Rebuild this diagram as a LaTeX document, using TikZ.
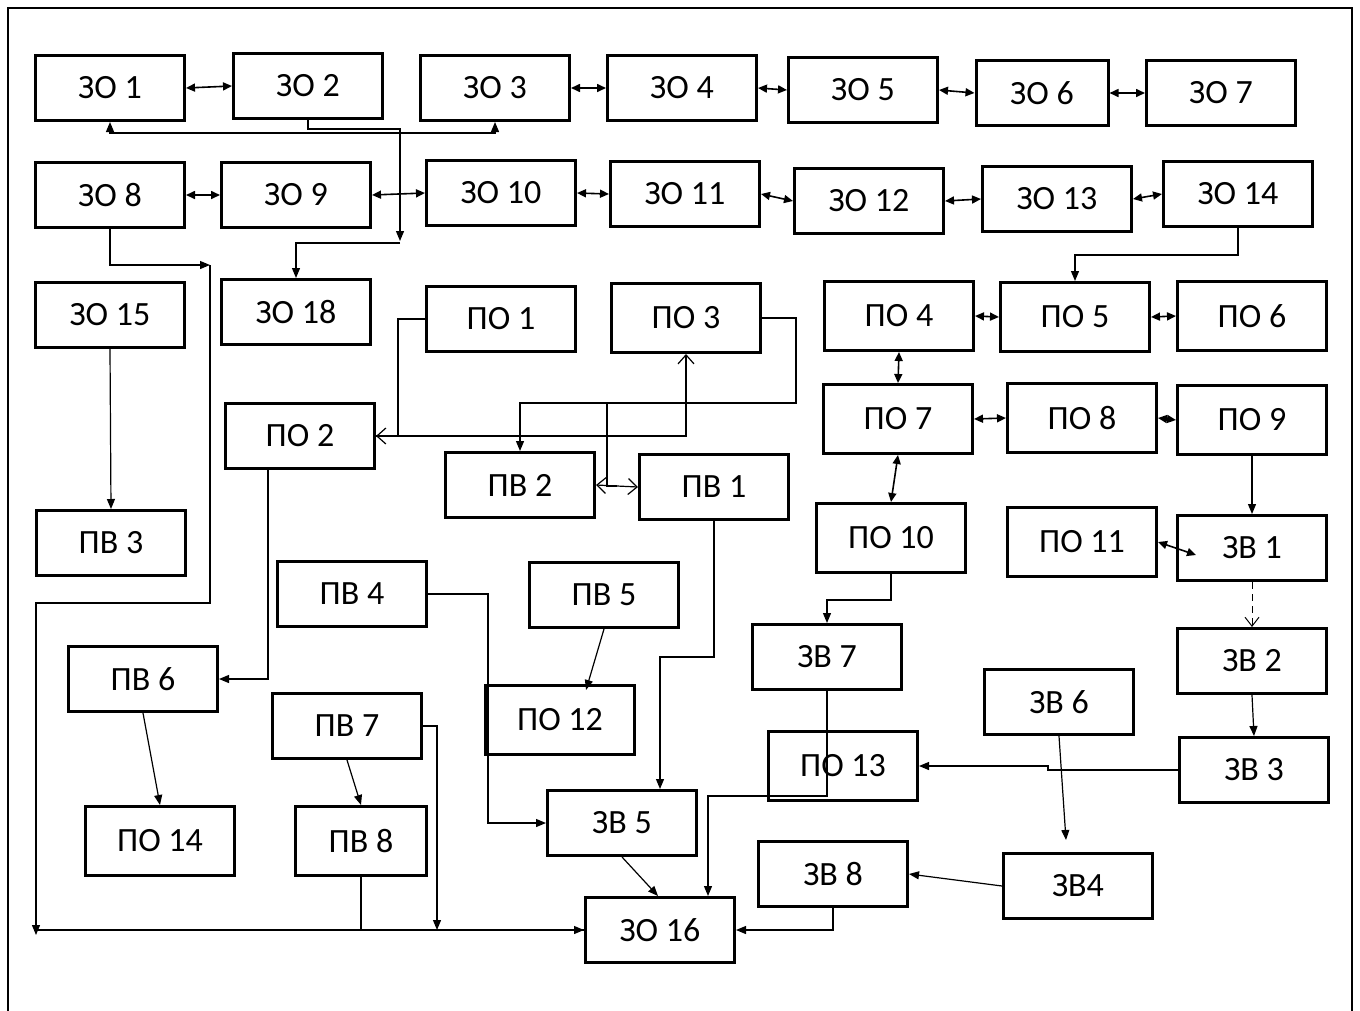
\documentclass[tikz,border=0pt]{standalone}
\usepackage{fontspec}
\setmainfont{Carlito}
\usetikzlibrary{arrows.meta}

\begin{document}
\begin{tikzpicture}[x=1pt,y=-1pt,
  box/.style={draw, line width=3pt, minimum width=149pt, minimum height=65pt, inner sep=0pt, font=\fontsize{34}{40}\selectfont},
  tall/.style={box, minimum height=69pt},
  ln/.style={line width=1.2pt},
  arr/.style={ln, -{Triangle[length=10pt,width=8pt]}},
  dbl/.style={line width=1.6pt, {Triangle[length=9pt,width=8pt]}-{Triangle[length=9pt,width=8pt]}},
  oarr/.style={ln, {Straight Barb[length=9pt,width=16pt]}-{Straight Barb[length=9pt,width=16pt]}}]
\useasboundingbox (0,0) rectangle (1360,1010);
\draw[line width=1.6pt] (8,1012) -- (8,8) -- (1352,8) -- (1352,1012);
\node[box] (zo1) at (110,88) {ЗО 1};
\node[box] (zo2) at (308,86) {ЗО 2};
\node[box] (zo3) at (495,88) {ЗО 3};
\node[box] (zo4) at (682,88) {ЗО 4};
\node[box] (zo5) at (863,90) {ЗО 5};
\node[box, minimum width=132pt] (zo6) at (1042,93) {ЗО 6};
\node[box] (zo7) at (1221,93) {ЗО 7};
\node[box] (zo8) at (110,195) {ЗО 8};
\node[box] (zo9) at (296,195) {ЗО 9};
\node[box] (zo10) at (501,193) {ЗО 10};
\node[box] (zo11) at (685,194) {ЗО 11};
\node[box] (zo12) at (869,201) {ЗО 12};
\node[box] (zo13) at (1057,199) {ЗО 13};
\node[box] (zo14) at (1238,194) {ЗО 14};
\node[box] (zo15) at (110,315) {ЗО 15};
\node[box] (zo18) at (296,312) {ЗО 18};
\node[box] (po1) at (501,319) {ПО 1};
\node[tall] (po3) at (686,318) {ПО 3};
\node[tall] (po4) at (899,316) {ПО 4};
\node[tall] (po5) at (1075,317) {ПО 5};
\node[tall] (po6) at (1252,316) {ПО 6};
\node[box] (po2) at (300,436) {ПО 2};
\node[box] (pv2) at (520,485) {ПВ 2};
\node[box] (pv1) at (714,487) {ПВ 1};
\node[tall] (po7) at (898,419) {ПО 7};
\node[tall] (po8) at (1082,418) {ПО 8};
\node[tall] (po9) at (1252,420) {ПО 9};
\node[box] (pv3) at (111,543) {ПВ 3};
\node[tall] (po10) at (891,538) {ПО 10};
\node[tall] (po11) at (1082,542) {ПО 11};
\node[box] (zv1) at (1252,548) {ЗВ 1};
\node[box] (pv4) at (352,594) {ПВ 4};
\node[box] (pv5) at (604,595) {ПВ 5};
\node[box] (zv7) at (827,657) {ЗВ 7};
\node[box] (zv2) at (1252,661) {ЗВ 2};
\node[box] (zv6) at (1059,702) {ЗВ 6};
\node[box] (pv6) at (143,679) {ПВ 6};
\node[box] (pv7) at (347,726) {ПВ 7};
\node[tall] (po12) at (560,720) {ПО 12};
\node[tall] (po13) at (843,766) {ПО 13};
\node[box] (zv3) at (1254,770) {ЗВ 3};
\node[tall] (po14) at (160,841) {ПО 14};
\node[tall, minimum width=131pt] (pv8) at (361,841) {ПВ 8};
\node[box] (zv5) at (622,823) {ЗВ 5};
\node[box] (zv8) at (833,874) {ЗВ 8};
\node[box] (zv4) at (1078,886) {ЗВ4};
\node[box] (zo16) at (660,930) {ЗО 16};
\coordinate (j1) at (400,241);
\coordinate (j2) at (400,243);
\coordinate (j3) at (210,265);
\coordinate (j4) at (36,935);
\coordinate (j5) at (36,603);
\coordinate (j6) at (36,930);
\coordinate (j7) at (437,930);
\coordinate (b13) at (300,133);
\coordinate (k1) at (1048,770);
\coordinate (k2) at (1066,840);
\coordinate (k4) at (607,403);
\coordinate (k5) at (617,486);
\draw[dbl] (zo1.east) -- (zo2.west);
\draw[dbl] (zo3.east) -- (zo4.west);
\draw[dbl] (zo4.east) -- (zo5.west);
\draw[dbl] (zo5.east) -- (zo6.west);
\draw[dbl] (zo6.east) -- (zo7.west);
\draw[dbl] (zo8.east) -- (zo9.west);
\draw[dbl] (zo9.east) -- (zo10.west);
\draw[dbl] (zo10.east) -- (zo11.west);
\draw[dbl] (zo11.east) -- (zo12.west);
\draw[dbl] (zo12.east) -- (zo13.west);
\draw[dbl] (zo13.east) -- (zo14.west);
\draw[ln, {Triangle[length=10pt,width=8pt]}-{Triangle[length=10pt,width=8pt]}] (zo1.south) |- (b13) -| (zo3.south);
\draw[arr] (zo2.south) -- ++(0,9) -| (j1);
\draw[arr] (j2) -| (zo18.north);
\draw[arr] (zo8.south) |- (j3);
\draw[arr] (j3) |- (j5) -- (j4);
\draw[arr] (j6) -- (zo16.west);
\draw[ln] (pv8.south) |- (zo16.west);
\draw[arr] (pv7.east) -| (j7);
\draw[arr] (zo15.south) -- (pv3.north);
\draw[arr] (zo14.south) -- ++(0,27) -| (po5.north);
\draw[dbl] (po4.east) -- (po5.west);
\draw[dbl] (po5.east) -- (po6.west);
\draw[dbl] (po4.south) -- (po7.north);
\draw[dbl] (po7.east) -- (po8.west);
\draw[dbl] (po8.east) -- (po9.west);
\draw[dbl] (po7.south) -- (po10.north);
\draw[arr] (po9.south) -- (zv1.north);
\draw[dbl] (po11.east) -- ([shift={(20,7)}]zv1.west);
\draw[line width=1pt, dash pattern=on 7pt off 5pt, -{Straight Barb[length=9pt,width=14pt]}] (zv1.south) -- (zv2.north);
\draw[arr] (zv2.south) -- (zv3.north);
\draw[arr] (zv3.west) -- (k1) |- (po13.east);
\draw[arr] (zv6.south) -- (k2);
\draw[arr] (zv4.west) -- (zv8.east);
\draw[arr] (zv8.south) |- (zo16.east);
\draw[arr] (po10.south) -- ++(0,26) -| (zv7.north);
\draw[arr] (zv7.south) -- ++(0,105) -| ([xshift=48pt]zo16.north);
\draw[arr] (pv1.south) -- ++(0,136) -| ([xshift=38pt]zv5.north);
\draw[arr] (pv4.east) -- ++(60,0) |- (zv5.west);
\draw[arr] (pv5.south) -- ([shift={(26,6)}]po12.north);
\draw[arr] (zv5.south) -- ([xshift=-2pt]zo16.north);
\draw[arr] (pv6.south) -- (po14.north);
\draw[arr] (pv7.south) -- (pv8.north);
\draw[arr] ([xshift=-32pt]po2.south) |- (pv6.east);
\draw[ln] (po1.west) -- ++(-27,0) |- (po2.east);
\draw[oarr] (po2.east) -| (po3.south);
\draw[arr] (po3.east) -- ++(34,0) -- ++(0,85) -| (pv2.north);
\draw[oarr] (pv2.east) -- (pv1.west);
\draw[ln] (k4) |- (k5);
\end{tikzpicture}
\end{document}
